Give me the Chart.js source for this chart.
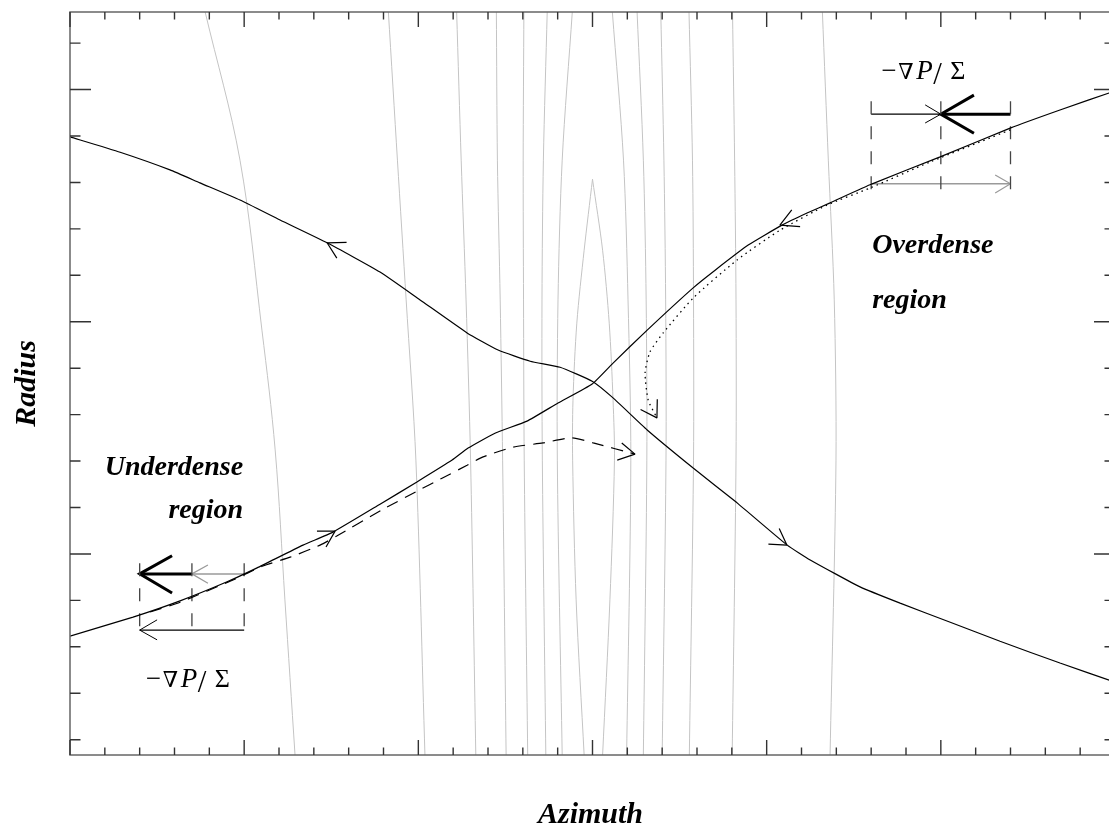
<!DOCTYPE html>
<html>
<head>
<meta charset="utf-8">
<script src="https://cdn.jsdelivr.net/npm/chart.js@4.4.1/dist/chart.umd.min.js"></script>
<style>
  html, body { margin: 0; padding: 0; background: #fff; overflow: hidden; }
  canvas { display: block; }
</style>
</head>
<body>
<canvas id="streamChart" width="1125" height="829"></canvas>
<script>
// axis ticks (arbitrary units, no labels in the figure)
const xTicks = [0,1,2,3,4,5,6,7,8,9,10,11,12,13,14,15,16,17,18,19,20,21,22,23,24,25,26,27,28,29,30];
const xMajor = [0,5,10,15,20,25,30];
const yTicks = [1,2,3,4,5,6,7,8,9,10,11,12,13,14,15,16];
const yMajor = [5,10,15];

// the two separatrix streamlines
const curveA = [[0,13.98],[1.44,13.65],[2.87,13.27],[3.73,12.99],[4.88,12.62],[6.03,12.19],[7.38,11.70],
  [8.90,11.07],[10.05,10.47],[11.40,9.76],[12.29,9.39],[13.21,9.15],[14.07,9.02],[14.99,8.72],[15.59,8.36],
  [16.57,7.67],[17.89,6.85],[19.15,6.10],[20.59,5.19],[21.25,4.87],[22.68,4.29],[23.83,3.94],[25.27,3.53],
  [26.70,3.12],[28.42,2.65],[30,2.24]];
const curveB = [[0,3.23],[1.81,3.64],[3.16,3.99],[4.51,4.40],[5.37,4.70],[6.69,5.19],[7.55,5.47],[8.90,6.07],
  [9.96,6.55],[10.97,7.02],[11.43,7.28],[12.20,7.60],[13.12,7.86],[14.01,8.25],[14.99,8.66],[15.59,9.11],
  [16.57,9.82],[17.89,10.73],[18.52,11.11],[19.47,11.65],[20.44,12.08],[21.16,12.34],[21.82,12.56],
  [23.03,12.97],[24.98,13.55],[26.99,14.17],[28.42,14.56],[30,14.97]];

// perturbed fluid paths
const dashedPath = [[2.30,3.75],[3.16,3.96],[4.68,4.44],[5.54,4.74],[6.32,4.93],[7.18,5.19],[7.67,5.39],
  [8.96,5.95],[9.96,6.35],[10.68,6.63],[11.40,6.91],[11.86,7.09],[12.72,7.30],[13.58,7.39],[14.41,7.50],
  [15.02,7.39],[16.22,7.15]];
const dottedPath = [[26.99,14.13],[24.69,13.44],[22.97,12.88],[21.73,12.51],[20.38,11.97],[19.15,11.33],
  [17.89,10.51],[17.03,9.76],[16.65,9.35],[16.51,8.90],[16.60,8.31],[16.85,7.93]];

// arrowheads on the paths
const headA1 = [[7.94,11.71],[7.38,11.70],[7.66,11.37]];
const headA2 = [[20.05,5.21],[20.58,5.19],[20.36,5.55]];
const headB1 = [[20.72,12.41],[20.38,12.08],[20.96,12.05]];
const headB2 = [[7.09,5.49],[7.61,5.49],[7.35,5.15]];
const headDashed = [[15.84,7.39],[16.22,7.15],[15.71,7.02]];
const headDotted = [[16.86,8.33],[16.85,7.93],[16.38,8.11]];

// gray density contours (x at each contour level)
const contourY = [16.67, 13.48, 10.47, 7.02, 0.67];
const contourX = [
  [9.14, 9.40, 9.65, 9.93, 10.19],
  [11.10, 11.23, 11.37, 11.50, 11.65],
  [12.24, 12.27, 12.35, 12.42, 12.52],
  [13.03, 13.01, 13.02, 13.04, 13.14],
  [13.70, 13.59, 13.55, 13.56, 13.66],
  [14.42, 14.13, 14.01, 13.99, 14.13],
  [15.57, 15.89, 16.02, 16.10, 15.98],
  [16.28, 16.46, 16.54, 16.56, 16.46],
  [16.96, 17.05, 17.10, 17.11, 17.00],
  [17.77, 17.87, 17.90, 17.90, 17.78],
  [19.02, 19.08, 19.12, 19.12, 19.01],
  [21.60, 21.77, 21.94, 21.99, 21.82]
];
const leftContour = [[3.88,16.67],[4.88,13.48],[5.51,9.82],[5.89,7.24],[6.17,4.01],[6.46,0.67]];
const cuspLeft = [[15.00,13.07],[14.76,11.54],[14.55,9.97],[14.44,8.31],[14.43,7.02],[14.53,4.01],[14.76,0.67]];
const cuspRight = [[15.00,13.07],[15.29,11.54],[15.48,9.97],[15.59,8.31],[15.63,7.02],[15.50,4.01],[15.29,0.67]];

// force vector sketches
const upperGuideX = [23, 25, 27];
const upperGuideY = [14.75, 12.69];
const upperThin = [[23,14.47],[25,14.47]];
const upperThinHead = [[24.55,14.67],[25,14.47],[24.55,14.28]];
const upperBold = [[27,14.47],[25,14.47]];
const upperBoldHead = [[25.95,14.88],[25,14.47],[25.95,14.06]];
const upperGray = [[23,12.97],[27,12.97]];
const upperGrayHead = [[26.56,13.16],[27,12.97],[26.56,12.77]];
const lowerGuideX = [2, 3.5, 5];
const lowerGuideY = [4.80, 3.36];
const lowerBold = [[3.5,4.57],[2,4.57]];
const lowerBoldHead = [[2.93,4.96],[2,4.57],[2.93,4.16]];
const lowerGray = [[5,4.57],[3.5,4.57]];
const lowerGrayHead = [[3.96,4.76],[3.5,4.57],[3.96,4.37]];
const lowerThin = [[5,3.36],[2,3.36]];
const lowerThinHead = [[2.5,3.58],[2,3.36],[2.5,3.15]];

const SERIF = '"Liberation Serif", "Times New Roman", serif';

function line(points, opts) {
  return Object.assign({
    data: points.map(p => ({ x: p[0], y: p[1] })),
    showLine: true,
    pointRadius: 0,
    borderColor: '#000',
    borderWidth: 1.2,
    tension: 0,
    fill: false,
    borderJoinStyle: 'bevel',
    order: 0
  }, opts);
}

const datasets = [];
contourX.forEach(xs => {
  datasets.push(line(xs.map((x, i) => [x, contourY[i]]), { borderColor: '#c4c4c4', borderWidth: 1, tension: 0.3, order: 5 }));
});
datasets.push(line(leftContour, { borderColor: '#c4c4c4', borderWidth: 1, tension: 0.35, order: 5 }));
datasets.push(line(cuspLeft, { borderColor: '#c4c4c4', borderWidth: 1, tension: 0.3, order: 5 }));
datasets.push(line(cuspRight, { borderColor: '#c4c4c4', borderWidth: 1, tension: 0.3, order: 5 }));

datasets.push(line(curveA, { tension: 0.15 }));
datasets.push(line(curveB, { tension: 0.15 }));
datasets.push(line(dashedPath, { tension: 0.2, borderDash: [12, 8] }));
datasets.push(line(dottedPath, { tension: 0.2, borderDash: [1.5, 4], borderWidth: 1.3 }));
[headA1, headA2, headB1, headB2, headDashed, headDotted].forEach(h => datasets.push(line(h)));

upperGuideX.forEach(x => datasets.push(line([[x, upperGuideY[0]], [x, upperGuideY[1]]], { borderColor: '#444', borderWidth: 1.3, borderDash: [13, 12] })));
lowerGuideX.forEach(x => datasets.push(line([[x, lowerGuideY[0]], [x, lowerGuideY[1]]], { borderColor: '#444', borderWidth: 1.3, borderDash: [13, 12] })));
datasets.push(line(upperThin));
datasets.push(line(upperThinHead, { borderWidth: 1 }));
datasets.push(line(upperBold, { borderWidth: 3 }));
datasets.push(line(upperBoldHead, { borderWidth: 3, borderJoinStyle: 'miter' }));
datasets.push(line(upperGray, { borderColor: '#9a9a9a', borderWidth: 1.5 }));
datasets.push(line(upperGrayHead, { borderColor: '#9a9a9a', borderWidth: 1.2 }));
datasets.push(line(lowerBold, { borderWidth: 3 }));
datasets.push(line(lowerBoldHead, { borderWidth: 3, borderJoinStyle: 'miter' }));
datasets.push(line(lowerGray, { borderColor: '#9a9a9a', borderWidth: 1.5 }));
datasets.push(line(lowerGrayHead, { borderColor: '#9a9a9a', borderWidth: 1.2 }));
datasets.push(line(lowerThin));
datasets.push(line(lowerThinHead, { borderWidth: 1 }));

function drawGrad(ctx, cx, baseline) {
  const x0 = cx - 43;
  ctx.fillStyle = '#000';
  ctx.textAlign = 'left';
  ctx.textBaseline = 'alphabetic';
  ctx.font = '27px ' + SERIF;
  ctx.fillText('\u2212', x0 - 1, baseline);
  ctx.font = '22px "DejaVu Serif", ' + SERIF;
  ctx.fillText('\u2207', x0 + 16, baseline);
  ctx.font = 'italic 27px ' + SERIF;
  ctx.fillText('P', x0 + 34, baseline);
  ctx.font = '31px ' + SERIF;
  ctx.fillText('/', x0 + 51, baseline + 5);
  ctx.font = '26px ' + SERIF;
  ctx.fillText('\u03A3', x0 + 68, baseline);
}

const framePlugin = {
  id: 'frame',
  afterDraw(chart) {
    const { ctx, chartArea: a, scales } = chart;
    const xs = scales.x, ys = scales.y;
    ctx.save();
    ctx.strokeStyle = '#666';
    ctx.lineWidth = 1.5;
    ctx.strokeRect(a.left, a.top, a.right - a.left, a.bottom - a.top);

    ctx.strokeStyle = '#333';
    ctx.lineWidth = 1.4;
    ctx.beginPath();
    xTicks.forEach(v => {
      const px = xs.getPixelForValue(v);
      const len = xMajor.includes(v) ? 15 : 7.5;
      ctx.moveTo(px, a.bottom); ctx.lineTo(px, a.bottom - len);
      ctx.moveTo(px, a.top); ctx.lineTo(px, a.top + len);
    });
    yTicks.forEach(v => {
      const py = ys.getPixelForValue(v);
      const len = yMajor.includes(v) ? 21 : 10.5;
      ctx.moveTo(a.left, py); ctx.lineTo(a.left + len, py);
      ctx.moveTo(a.right, py); ctx.lineTo(a.right - len, py);
    });
    ctx.stroke();

    // axis titles
    ctx.fillStyle = '#000';
    ctx.font = 'italic bold 30px ' + SERIF;
    ctx.textAlign = 'center';
    ctx.textBaseline = 'alphabetic';
    ctx.fillText('Azimuth', (a.left + a.right) / 2 - 2, a.bottom + 68);
    ctx.save();
    ctx.translate(a.left - 35, (a.top + a.bottom) / 2);
    ctx.rotate(-Math.PI / 2);
    ctx.fillText('Radius', 0, 0);
    ctx.restore();

    // region labels
    ctx.font = 'italic bold 28px ' + SERIF;
    ctx.textAlign = 'left';
    ctx.fillText('Overdense', xs.getPixelForValue(23.03), ys.getPixelForValue(11.48));
    ctx.fillText('region', xs.getPixelForValue(23.03), ys.getPixelForValue(10.30));
    ctx.textAlign = 'right';
    ctx.fillText('Underdense', xs.getPixelForValue(4.97), ys.getPixelForValue(6.70));
    ctx.fillText('region', xs.getPixelForValue(4.97), ys.getPixelForValue(5.77));

    drawGrad(ctx, xs.getPixelForValue(24.55), ys.getPixelForValue(15.23));
    drawGrad(ctx, xs.getPixelForValue(3.44), ys.getPixelForValue(2.13));
    ctx.restore();
  }
};

const ctx = document.getElementById('streamChart').getContext('2d');
new Chart(ctx, {
  type: 'scatter',
  data: { datasets: datasets },
  options: {
    responsive: false,
    devicePixelRatio: 1,
    animation: false,
    events: [],
    layout: { padding: { left: 70, top: 12, right: 10, bottom: 74 } },
    scales: {
      x: { type: 'linear', min: 0, max: 30, display: false },
      y: { type: 'linear', min: 0.67, max: 16.67, display: false }
    },
    plugins: {
      legend: { display: false },
      tooltip: { enabled: false }
    }
  },
  plugins: [framePlugin]
});
</script>
</body>
</html>
